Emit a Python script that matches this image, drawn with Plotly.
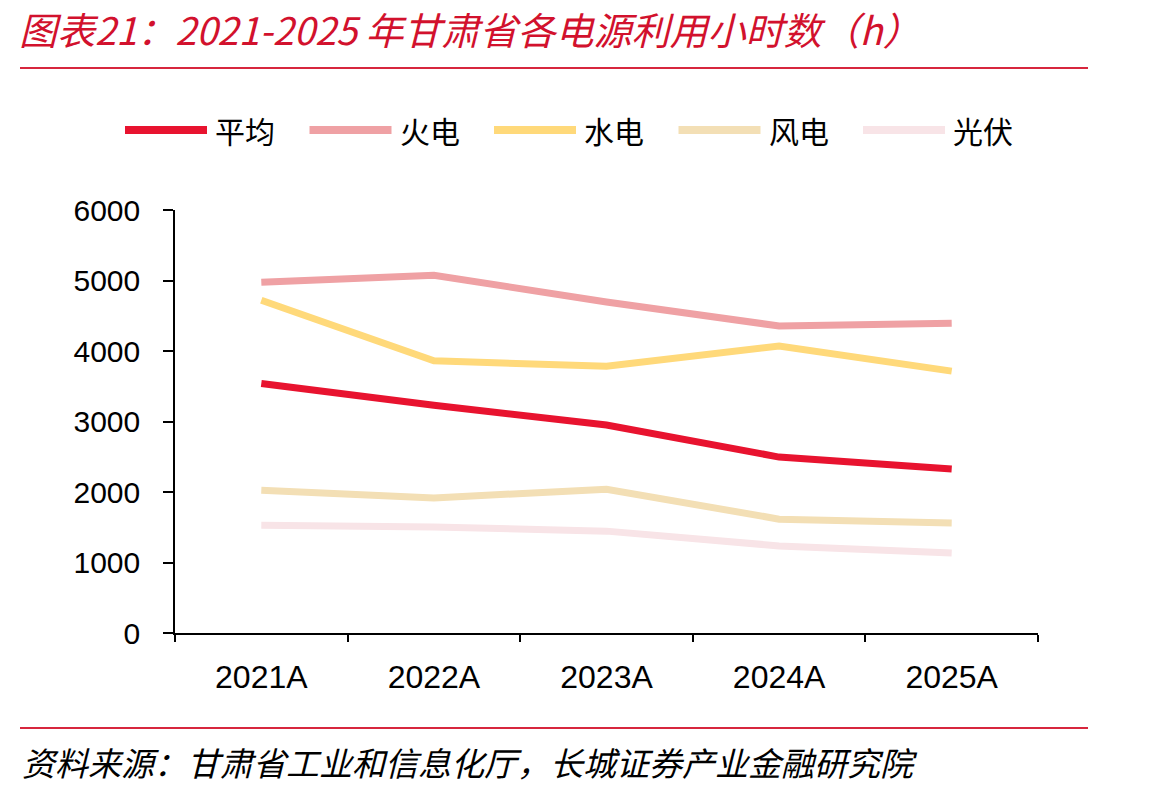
import plotly.graph_objects as go

categories = ["2021A", "2022A", "2023A", "2024A", "2025A"]
avg_hours = [3540, 3230, 2950, 2495, 2325]
thermal_hours = [4975, 5075, 4695, 4355, 4395]
hydro_hours = [4720, 3860, 3785, 4070, 3715]
wind_hours = [2025, 1915, 2040, 1615, 1560]
solar_hours = [1530, 1505, 1445, 1235, 1135]

series_names = ["平均", "火电", "水电", "风电", "光伏"]
series_values = [avg_hours, thermal_hours, hydro_hours, wind_hours, solar_hours]
series_colors = ["#E8132F", "#EFA1A4", "#FFD97A", "#F3DFB5", "#F8E4E7"]

W, H = 1149, 793
L, R, T, B = 175, 1038, 210, 633


def px(x):
    return (x - L) / (R - L)


def py(y):
    return (B - y) / (B - T)


fig = go.Figure()
# draw lighter series first so the average stays on top
for name, vals, col in reversed(list(zip(series_names, series_values, series_colors))):
    fig.add_trace(go.Scatter(x=categories, y=vals, mode="lines", name=name,
                             line=dict(color=col, width=7), showlegend=False))

shapes = []
annotations = []
# title
annotations.append(dict(text="<i>图表21：2021-2025 年甘肃省各电源利用小时数（h）</i>",
                        xref="paper", yref="paper", x=px(18), y=py(28),
                        xanchor="left", yanchor="middle", showarrow=False, borderpad=0,
                        font=dict(family="Noto Sans CJK SC", size=38, color="#D2112D")))
# source
annotations.append(dict(text="<i>资料来源：甘肃省工业和信息化厅，长城证券产业金融研究院</i>",
                        xref="paper", yref="paper", x=px(20), y=py(762),
                        xanchor="left", yanchor="middle", showarrow=False,
                        font=dict(family="Noto Sans CJK SC", size=33, color="#000000")))
# separator lines
for yy in (68, 728):
    shapes.append(dict(type="line", xref="paper", yref="paper",
                       x0=px(20), x1=px(1088), y0=py(yy), y1=py(yy),
                       line=dict(color="#D7263D", width=2)))
# legend
leg_x0 = 125
leg_step = 184.5
leg_y = 130
for i, (name, col) in enumerate(zip(series_names, series_colors)):
    x0 = leg_x0 + i * leg_step
    shapes.append(dict(type="line", xref="paper", yref="paper",
                       x0=px(x0), x1=px(x0 + 82), y0=py(leg_y), y1=py(leg_y),
                       line=dict(color=col, width=8)))
    annotations.append(dict(text=name, xref="paper", yref="paper",
                            x=px(x0 + 88), y=py(leg_y), xanchor="left", yanchor="middle",
                            showarrow=False,
                            font=dict(family="Noto Sans CJK SC", size=30, color="#000000")))

fig.update_layout(
    width=W, height=H,
    margin=dict(l=L, r=W - R, t=T, b=H - B),
    paper_bgcolor="white", plot_bgcolor="white",
    shapes=shapes, annotations=annotations,
    showlegend=False,
    xaxis=dict(type="category", range=[-0.5, 4.5], showgrid=False,
               showline=True, linecolor="black", linewidth=1.5,
               ticks="outside", tickson="boundaries", ticklen=7, tickcolor="black",
               tickwidth=1.5, ticklabelstandoff=15,
               tickfont=dict(family="Liberation Sans", size=32, color="black")),
    yaxis=dict(range=[0, 6000], tickvals=[0, 1000, 2000, 3000, 4000, 5000, 6000],
               showgrid=False, zeroline=False,
               showline=True, linecolor="black", linewidth=1.5,
               ticks="outside", ticklen=10, tickcolor="black", tickwidth=1.5,
               ticklabelstandoff=17,
               tickfont=dict(family="Liberation Sans", size=30, color="black")),
)

fig.write_html("out.html")
